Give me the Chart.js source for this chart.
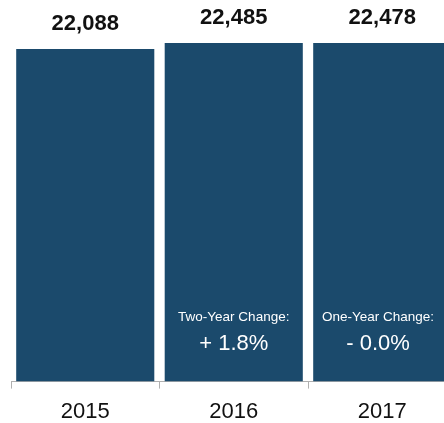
<!DOCTYPE html>
<html>
<head>
<meta charset="utf-8">
<script src="https://cdn.jsdelivr.net/npm/chart.js@4/dist/chart.umd.min.js"></script>
<style>
  html, body { margin: 0; padding: 0; background: #fff; overflow: hidden; }
  #enrollChart { position: absolute; left: 0; top: 0; }
</style>
</head>
<body>
<canvas id="enrollChart" width="460" height="423"></canvas>
<script>
// Yearly totals
const years = ['2015', '2016', '2017'];
const totals = [22088, 22485, 22478];
const changeTitles = ['', 'Two-Year Change:', 'One-Year Change:'];
const changeLabels = ['', '+ 1.8%', '- 0.0%'];

const barColor = '#1b4a6c';
const fontFamily = '"Liberation Sans", Arial, Helvetica, sans-serif';

// value above each bar, change note inside the bar
const barText = {
    id: 'barText',
    afterDatasetsDraw(chart) {
        const ctx = chart.ctx;
        const meta = chart.getDatasetMeta(0);
        ctx.save();
        ctx.textAlign = 'center';
        ctx.textBaseline = 'middle';
        meta.data.forEach((bar, i) => {
            ctx.fillStyle = '#111';
            ctx.font = 'bold 22px ' + fontFamily;
            ctx.fillText(totals[i].toLocaleString('en-US'), bar.x, bar.y - 25);
            if (changeTitles[i]) {
                const cx = Math.min(bar.x, 378);
                ctx.fillStyle = '#fff';
                ctx.font = '13.5px ' + fontFamily;
                ctx.fillText(changeTitles[i], cx, 317);
                ctx.font = '22px ' + fontFamily;
                ctx.fillText(changeLabels[i], cx, 344);
            }
        });
        ctx.restore();
    }
};

new Chart(document.getElementById('enrollChart'), {
    type: 'bar',
    data: {
        labels: years,
        datasets: [{
            data: totals,
            backgroundColor: barColor,
            borderWidth: 0,
            categoryPercentage: 1,
            barPercentage: 0.93
        }]
    },
    options: {
        responsive: false,
        maintainAspectRatio: false,
        animation: false,
        layout: { padding: { left: 11, right: 3.5, top: 43, bottom: -12 } },
        plugins: {
            legend: { display: false },
            tooltip: { enabled: false }
        },
        scales: {
            y: {
                display: false,
                min: 0,
                max: 22485
            },
            x: {
                offset: true,
                grid: {
                    offset: true,
                    drawOnChartArea: false,
                    color: '#b0b0b0',
                    tickLength: 7
                },
                border: { color: '#b0b0b0', width: 1 },
                ticks: {
                    color: '#111',
                    padding: 10,
                    font: { family: fontFamily, size: 22 }
                }
            }
        }
    },
    plugins: [barText]
});
</script>
</body>
</html>
